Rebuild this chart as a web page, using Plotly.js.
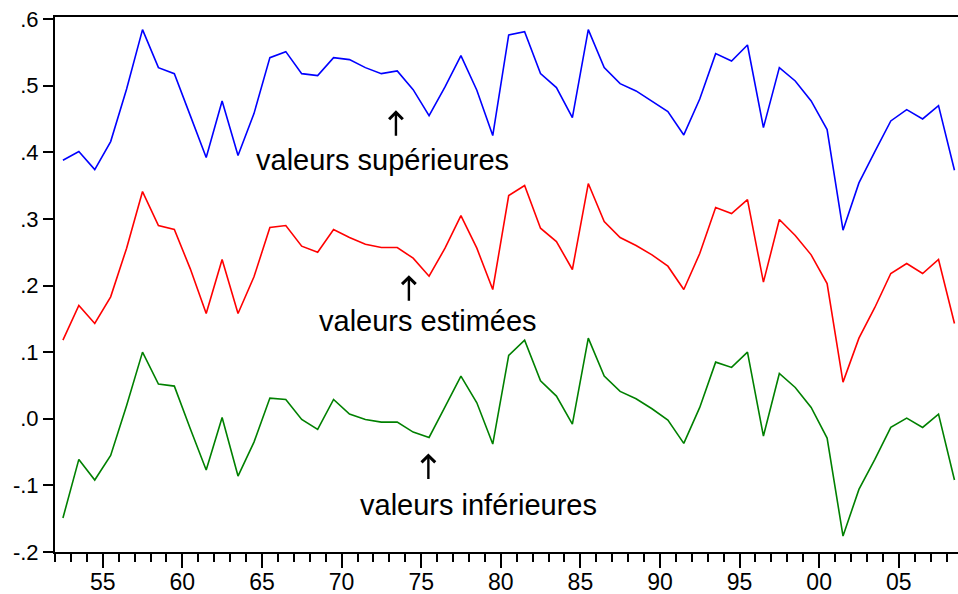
<!DOCTYPE html>
<html>
<head>
<meta charset="utf-8">
<script src="https://cdn.plot.ly/plotly-3.0.1.min.js"></script>
<style>html,body{margin:0;padding:0;background:#fff;}#chart{width:958px;height:594px;}</style>
</head>
<body>
<div id="chart"></div>
<script>
// Annual observations 1952-2008
const years = [1952,1953,1954,1955,1956,1957,1958,1959,1960,1961,1962,1963,1964,1965,1966,1967,1968,1969,1970,
  1971,1972,1973,1974,1975,1976,1977,1978,1979,1980,1981,1982,1983,1984,1985,1986,1987,1988,1989,1990,
  1991,1992,1993,1994,1995,1996,1997,1998,1999,2000,2001,2002,2003,2004,2005,2006,2007,2008];

const superieures = [0.388,0.401,0.374,0.416,0.495,0.584,0.527,0.518,0.455,0.392,0.477,0.395,0.458,0.542,0.551,0.518,0.515,0.542,0.539,
  0.527,0.518,0.522,0.494,0.455,0.498,0.545,0.493,0.425,0.576,0.581,0.518,0.497,0.452,0.584,0.527,0.503,0.492,0.476,0.461,
  0.426,0.480,0.548,0.537,0.561,0.437,0.527,0.507,0.477,0.434,0.283,0.354,0.401,0.447,0.464,0.450,0.470,0.373];

const estimees = [0.118,0.170,0.143,0.183,0.256,0.341,0.290,0.284,0.225,0.158,0.239,0.158,0.213,0.287,0.290,0.259,0.250,0.284,0.272,
  0.262,0.257,0.257,0.241,0.214,0.256,0.305,0.256,0.194,0.335,0.350,0.286,0.266,0.224,0.353,0.296,0.272,0.260,0.246,0.229,
  0.194,0.248,0.317,0.308,0.329,0.205,0.299,0.275,0.246,0.203,0.055,0.121,0.167,0.218,0.233,0.218,0.239,0.143];

const inferieures = [-0.149,-0.061,-0.092,-0.055,0.020,0.100,0.052,0.049,-0.015,-0.077,0.002,-0.086,-0.035,0.031,0.029,-0.001,-0.016,0.029,0.007,
  -0.001,-0.005,-0.005,-0.020,-0.028,0.018,0.064,0.024,-0.038,0.095,0.118,0.057,0.034,-0.008,0.121,0.064,0.041,0.030,0.015,-0.002,
  -0.037,0.017,0.085,0.077,0.100,-0.026,0.068,0.047,0.017,-0.029,-0.176,-0.106,-0.061,-0.013,0.001,-0.013,0.007,-0.092];

const yTickVals = [0.6,0.5,0.4,0.3,0.2,0.1,0.0,-0.1,-0.2];
const yTickText = ['.6','.5','.4','.3','.2','.1','.0','-.1','-.2'];

const labelSup = 'valeurs supérieures';
const labelEst = 'valeurs estimées';
const labelInf = 'valeurs inférieures';

// annual data plotted at mid-year
const dates = years.map(y => y + '-07-01');

const mk = (vals, color) => ({
  x: dates, y: vals, type: 'scatter', mode: 'lines',
  line: {color: color, width: 1.6}, hoverinfo: 'skip', showlegend: false
});

const data = [mk(superieures,'#0000ff'), mk(estimees,'#ff0000'), mk(inferieures,'#008000')];

const font = 'Liberation Sans, Arial, sans-serif';
const textAnn = (x, y, t) => ({x: x, y: y, xref:'x', yref:'y', text: t, showarrow: false,
  font: {family: font, size: 29, color: '#000'}, xanchor: 'center', yanchor: 'middle'});
const arrowAnn = (x, y) => ({x: x, y: y, xref:'x', yref:'y', text: '', showarrow: true,
  arrowhead: 4, arrowsize: 1.1, arrowwidth: 2.4, arrowcolor: '#000', ax: 0, ay: 27, standoff: 0});

const layout = {
  width: 958, height: 594,
  margin: {l: 55, r: 0, t: 17, b: 42},
  paper_bgcolor: '#fff', plot_bgcolor: '#fff',
  showlegend: false,
  font: {family: font, size: 23, color: '#000'},
  xaxis: {
    type: 'date',
    range: ['1952-01-01', '2008-09-20'],
    tick0: '1955-01-01', dtick: 'M60', tickformat: '%y',
    ticks: 'outside', ticklen: 14, tickwidth: 2, tickcolor: '#000',
    ticklabelstandoff: -6,
    minor: {dtick: 'M12', tick0: '1952-01-01', ticks: 'outside', ticklen: 8, tickwidth: 2, tickcolor: '#000', showgrid: false},
    showline: true, linecolor: '#000', linewidth: 2, mirror: true,
    showgrid: false, zeroline: false,
    tickfont: {family: font, size: 23, color: '#000'}
  },
  yaxis: {
    range: [-0.2, 0.603],
    tickmode: 'array', tickvals: yTickVals, ticktext: yTickText,
    ticks: 'outside', ticklen: 10, tickwidth: 2, tickcolor: '#000',
    showline: true, linecolor: '#000', linewidth: 2,
    showgrid: false, zeroline: false,
    tickfont: {family: font, size: 22, color: '#000'}
  },
  annotations: [
    arrowAnn('1973-06-01', 0.463),
    textAnn('1972-08-01', 0.389, labelSup),
    arrowAnn('1974-03-25', 0.2155),
    textAnn('1975-06-01', 0.146, labelEst),
    arrowAnn('1975-06-15', -0.052),
    textAnn('1978-08-15', -0.130, labelInf)
  ]
};

Plotly.newPlot('chart', data, layout, {displayModeBar: false, staticPlot: true});
</script>
</body>
</html>
